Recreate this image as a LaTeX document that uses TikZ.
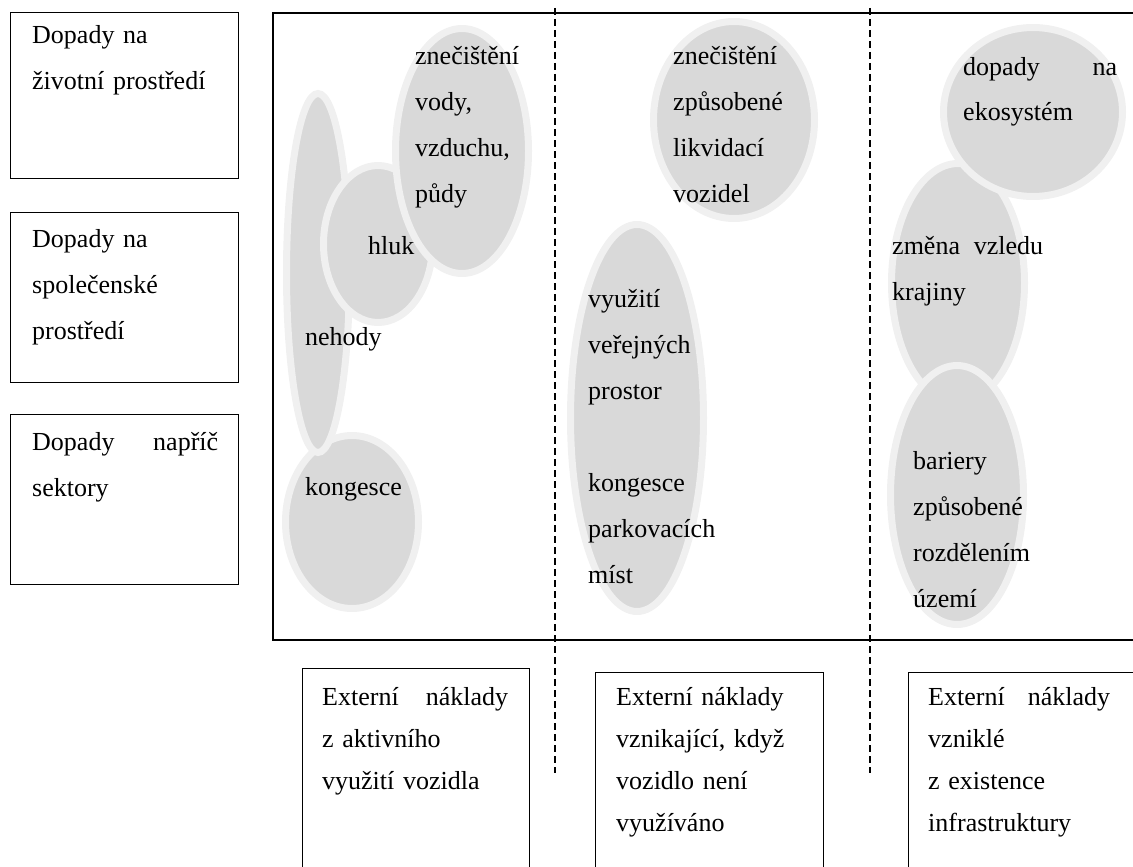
\documentclass[tikz,border=0pt]{standalone}
\usepackage{fontspec}
\setmainfont{Liberation Serif}
\usetikzlibrary{shapes.geometric, positioning}
\setlength\parindent{0pt}
\newcommand{\spread}[3]{\hbox to #1pt{#2\hfill #3}}

\begin{document}
\begin{tikzpicture}[x=1pt, y=-1pt, font=\fontsize{26}{46}\selectfont]

  \tikzset{
    sideBox/.style={draw, line width=1.4pt, anchor=north west, inner sep=0pt, minimum width=228},
    costBox/.style={draw, line width=1.4pt, anchor=north west, inner sep=0pt, minimum height=230},
    blob/.style={ellipse, draw=gray!12, line width=7pt, fill=gray!30, inner sep=0pt},
    txt/.style={anchor=base west, inner sep=0pt, align=left},
    costTxt/.style={txt, font=\fontsize{26}{42}\selectfont},
    divider/.style={dash pattern=on 7pt off 4pt, line width=1.2pt}
  }

  \useasboundingbox (0,0) rectangle (1133,867);
  \clip (0,0) rectangle (1133,867);

  % Levé rámečky
  \node[sideBox, minimum height=166] (envBox) at (10,12) {};
  \node[sideBox, minimum height=170] (socBox) at (10,212) {};
  \node[sideBox, minimum height=170] (secBox) at (10,414) {};
  \node[txt, text width=186] (envText) at (32,44) {Dopady na\\životní prostředí};
  \node[txt, text width=186] (socText) at (32,247) {Dopady na\\společenské\\prostředí};
  \node[txt, text width=186] (secText) at (32,450) {\spread{186}{Dopady}{napříč}\\sektory};

  % Hlavní rámec a dělicí čáry
  \draw[line width=1.8pt] (1140,13) -- (273,13) -- (273,640) -- (1140,640);
  \draw[divider] (555,8) -- (555,773);
  \draw[divider] (870,8) -- (870,773);

  % Elipsy - první sloupec
  \node[blob, minimum width=133, minimum height=173] (kongesce) at (352,522) {};
  \node[blob, minimum width=63, minimum height=359] (nehody) at (318,273) {};
  \node[blob, minimum width=109, minimum height=157] (hluk) at (378,244) {};
  \node[blob, minimum width=133, minimum height=245] (vody) at (462,151) {};

  % Elipsy - druhý sloupec
  \node[blob, minimum width=161, minimum height=197] (likvidace) at (734,120) {};
  \node[blob, minimum width=133, minimum height=387] (verejne) at (637,418) {};

  % Elipsy - třetí sloupec
  \node[blob, minimum width=133, minimum height=239] (krajina) at (958,283) {};
  \node[blob, minimum width=179, minimum height=169] (ekosystem) at (1033,112) {};
  \node[blob, minimum width=133, minimum height=259] (bariery) at (957,495) {};

  % Texty v elipsách
  \node[txt, text width=120] (vodyText) at (415,65) {znečištění\\vody,\\vzduchu,\\půdy};
  \node[txt] (hlukText) at (368,254) {hluk};
  \node[txt] (nehodyText) at (305,345) {nehody};
  \node[txt] (kongesceText) at (305,495) {kongesce};
  \node[txt, text width=130] (likvidaceText) at (673,65) {znečištění\\způsobené\\likvidací\\vozidel};
  \node[txt, text width=140] (verejneText) at (588,307) {využití\\veřejných\\prostor\\[46pt]kongesce\\parkovacích\\míst};
  \node[txt, text width=154] (ekoText) at (963,75) {\spread{154}{dopady}{na}\\ekosystém};
  \node[txt, text width=151] (krajinaText) at (892,254) {\spread{151}{změna}{vzledu}\\krajiny};
  \node[txt, text width=140] (barieryText) at (913,469) {bariery\\způsobené\\rozdělením\\území};

  % Spodní rámečky
  \node[costBox, minimum width=227] (activeBox) at (302,668) {};
  \node[costBox, minimum width=228] (idleBox) at (595,672) {};
  \node[costBox, minimum width=260] (infraBox) at (908,672) {};
  \node[costTxt, text width=186] (activeText) at (322,705) {\spread{186}{Externí}{náklady}\\z aktivního\\využití vozidla};
  \node[costTxt, text width=186] (idleText) at (616,705) {Externí náklady\\vznikající, když\\vozidlo není\\využíváno};
  \node[costTxt, text width=182] (infraText) at (928,705) {\spread{182}{Externí}{náklady}\\vzniklé\\z existence\\infrastruktury};

\end{tikzpicture}
\end{document}
